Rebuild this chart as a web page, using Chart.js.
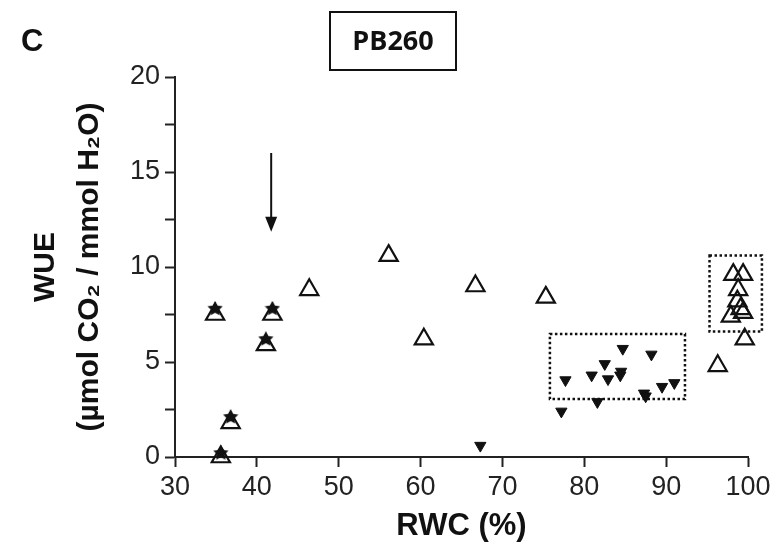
<!DOCTYPE html>
<html>
<head>
<meta charset="utf-8">
<script src="https://cdn.jsdelivr.net/npm/chart.js@4.4.0/dist/chart.umd.min.js"></script>
<style>
    html, body { margin: 0; padding: 0; background: #fff; }
    #wrap { width: 770px; height: 553px; position: relative; }
</style>
</head>
<body>
<div id="wrap"><canvas id="wueChart" width="770" height="553"></canvas></div>
<script>
(function () {
    // open triangles
    var openRwc = [35.6, 36.8, 34.9, 41.1, 41.9, 46.4, 56.1, 60.4, 66.7, 75.3, 96.3, 99.6, 98.2, 99.4, 98.8, 98.7, 99.1, 99.4, 97.9];
    var openWue = [0.0, 1.8, 7.5, 5.9, 7.5, 8.8, 10.6, 6.2, 9.0, 8.4, 4.8, 6.2, 9.6, 9.6, 8.8, 8.2, 7.8, 7.6, 7.4];

    // stars sitting on the low-RWC triangles
    var starRwc = [35.6, 36.8, 34.9, 41.1, 41.9];
    var starWue = [0.2, 2.1, 7.8, 6.2, 7.8];

    // filled inverted triangles
    var downRwc = [67.3, 77.2, 77.7, 80.9, 81.6, 82.5, 82.9, 84.4, 84.5, 84.7, 87.3, 87.5, 88.2, 89.5, 91.0];
    var downWue = [0.6, 2.4, 4.05, 4.3, 2.9, 4.9, 4.1, 4.3, 4.5, 5.7, 3.35, 3.2, 5.4, 3.7, 3.9];

    var xTicks = [30, 40, 50, 60, 70, 80, 90, 100];
    var yTicks = [0, 5, 10, 15, 20];

    // dotted groups: [rwcMin, rwcMax, wueMin, wueMax]
    var groupBoxes = [[75.8, 92.3, 3.05, 6.47], [95.3, 101.7, 6.6, 10.6]];
    // arrow: rwc, from wue, to wue
    var arrow = [41.75, 16.0, 11.85];

    var FONT = "'Liberation Sans', Arial, 'DejaVu Sans', sans-serif";
    var INK = '#111';

    function pts(xs, ys) {
        return xs.map(function (x, i) { return { x: x, y: ys[i] }; });
    }

    function makeStar(size) {
        var c = document.createElement('canvas');
        c.width = size;
        c.height = size;
        var g = c.getContext('2d');
        g.fillStyle = INK;
        g.beginPath();
        for (var i = 0; i < 10; i++) {
            var r = i % 2 ? size * 0.25 : size * 0.5;
            var a = Math.PI / 5 * i - Math.PI / 2;
            g.lineTo(size / 2 + r * Math.cos(a), size / 2 + r * Math.sin(a));
        }
        g.closePath();
        g.fill();
        return c;
    }

    var extras = {
        id: 'extras',
        afterDatasetsDraw: function (chart) {
            var c = chart.ctx;
            var xs = chart.scales.x, ys = chart.scales.y;
            c.save();
            // dotted group boxes
            c.strokeStyle = INK;
            c.lineWidth = 2.5;
            c.setLineDash([2.5, 2.5]);
            groupBoxes.forEach(function (b) {
                var l = xs.getPixelForValue(b[0]), r = xs.getPixelForValue(b[1]);
                var t = ys.getPixelForValue(b[3]), btm = ys.getPixelForValue(b[2]);
                c.strokeRect(l, t, r - l, btm - t);
            });
            c.setLineDash([]);
            // arrow
            var ax = xs.getPixelForValue(arrow[0]);
            var ay0 = ys.getPixelForValue(arrow[1]), ay1 = ys.getPixelForValue(arrow[2]);
            c.lineWidth = 2;
            c.beginPath();
            c.moveTo(ax, ay0);
            c.lineTo(ax, ay1 - 12);
            c.stroke();
            c.fillStyle = INK;
            c.beginPath();
            c.moveTo(ax - 6, ay1 - 15);
            c.lineTo(ax + 6, ay1 - 15);
            c.lineTo(ax, ay1);
            c.closePath();
            c.fill();
            // panel letter and genotype box
            c.fillStyle = INK;
            c.textBaseline = 'middle';
            c.textAlign = 'left';
            c.font = 'bold 31px ' + FONT;
            c.fillText('C', 21, 42);
            c.lineWidth = 2;
            c.strokeStyle = INK;
            c.strokeRect(330, 12, 126, 58);
            c.textAlign = 'center';
            c.font = "bold 27px 'Open Sans', " + FONT;
            c.fillText('PB260', 393, 42);
            c.restore();
        }
    };

    var ctx = document.getElementById('wueChart');
    var wueChart = new Chart(ctx, {
        type: 'scatter',
        data: {
            datasets: [{
                label: 'open',
                data: pts(openRwc, openWue),
                pointStyle: 'triangle',
                pointRadius: 10.5,
                pointBorderWidth: 2.2,
                pointBorderColor: INK,
                pointBackgroundColor: 'rgba(255,255,255,0)',
                clip: false,
                order: 3
            }, {
                label: 'down',
                data: pts(downRwc, downWue),
                pointStyle: 'triangle',
                rotation: 180,
                pointRadius: 6.5,
                pointBorderWidth: 1,
                pointBorderColor: INK,
                pointBackgroundColor: INK,
                clip: false,
                order: 2
            }, {
                label: 'star',
                data: pts(starRwc, starWue),
                pointStyle: makeStar(16),
                clip: false,
                order: 1
            }]
        },
        options: {
            responsive: false,
            animation: false,
            layout: { padding: { top: 77, right: 22, left: 0, bottom: 0 } },
            plugins: {
                legend: { display: false },
                tooltip: { enabled: false }
            },
            scales: {
                x: {
                    type: 'linear',
                    min: 30,
                    max: 100,
                    afterFit: function (scale) {
                        scale.height = 96;
                        // let the "100" label hang into the right margin
                        scale.paddingRight = 0;
                        scale.paddingLeft = 0;
                    },
                    afterBuildTicks: function (scale) {
                        scale.ticks = xTicks.map(function (v) { return { value: v }; });
                    },
                    ticks: {
                        color: '#222',
                        padding: 4,
                        maxRotation: 0,
                        autoSkip: false,
                        font: { family: FONT, size: 27 }
                    },
                    grid: { drawOnChartArea: false, drawTicks: true, tickLength: 10, tickWidth: 2, color: '#222' },
                    border: { display: true, color: '#222', width: 2 },
                    title: {
                        display: true,
                        text: 'RWC (%)',
                        color: INK,
                        padding: { top: 0, bottom: 8 },
                        font: { family: FONT, size: 31, weight: 'bold' }
                    }
                },
                y: {
                    type: 'linear',
                    min: 0,
                    max: 20,
                    afterFit: function (scale) { scale.width = 175; },
                    ticks: {
                        stepSize: 2.5,
                        autoSkip: false,
                        color: '#222',
                        padding: 5,
                        font: { family: FONT, size: 27 },
                        callback: function (v) { return yTicks.indexOf(v) >= 0 ? String(v) : ''; }
                    },
                    grid: { drawOnChartArea: false, drawTicks: true, tickLength: 10, tickWidth: 2, color: '#222' },
                    border: { display: true, color: '#222', width: 2 },
                    title: {
                        display: true,
                        text: ['WUE', '(µmol CO₂ / mmol H₂O)'],
                        color: INK,
                        padding: { top: 24, bottom: 0 },
                        font: { family: FONT, size: 30, weight: 'bold', lineHeight: 1.47 }
                    }
                }
            }
        },
        plugins: [extras]
    });
})()
</script>
</body>
</html>
